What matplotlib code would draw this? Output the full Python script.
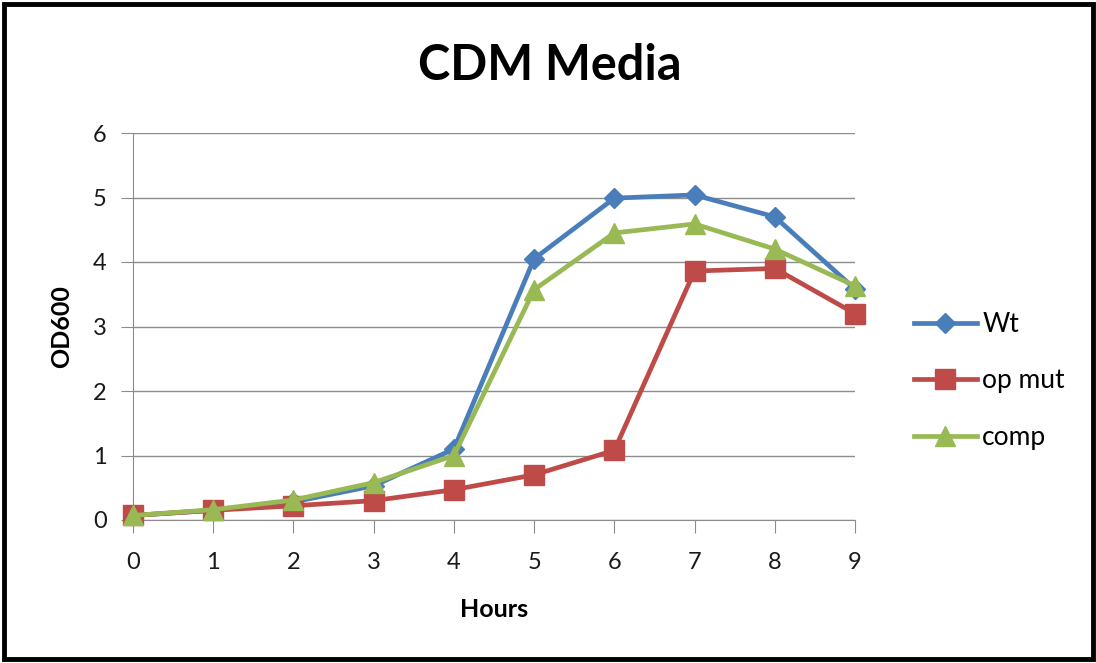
import matplotlib
matplotlib.use("Agg")
import matplotlib.pyplot as plt
from matplotlib.patches import Rectangle

hours = [0, 1, 2, 3, 4, 5, 6, 7, 8, 9]
wt = [0.07, 0.15, 0.28, 0.53, 1.10, 4.05, 4.99, 5.04, 4.70, 3.58]
op_mut = [0.07, 0.15, 0.22, 0.30, 0.47, 0.70, 1.08, 3.86, 3.90, 3.20]
comp = [0.07, 0.16, 0.31, 0.58, 1.00, 3.57, 4.45, 4.59, 4.20, 3.63]

y_ticks = [0, 1, 2, 3, 4, 5, 6]

plt.rcParams['font.family'] = ['Lato', 'DejaVu Sans']

fig = plt.figure(figsize=(10.96, 6.63), dpi=100)
fig.patches.append(Rectangle((0.004, 0.006), 0.993, 0.988, transform=fig.transFigure,
                             fill=False, edgecolor='black', linewidth=3.5))

ax = fig.add_axes([133 / 1096, 1 - 520 / 663, (855 - 133) / 1096, (520 - 133) / 663])

series = [
    (wt, 'Wt', '#4A7EBB', 'D', 10),
    (op_mut, 'op mut', '#BE4B48', 's', 14),
    (comp, 'comp', '#98B954', '^', 14),
]
for vals, name, color, marker, ms in series:
    ax.plot(hours, vals, color=color, linewidth=3.4, marker=marker, markersize=ms,
            markerfacecolor=color, markeredgecolor=color, label=name, clip_on=False, zorder=3)

ax.set_xlim(0, 9)
ax.set_ylim(0, 6)
ax.set_xticks(hours)
ax.set_yticks(y_ticks)
ax.grid(axis='y', color='#8C8C8C', linewidth=1)
ax.set_axisbelow(True)
for s in ['top', 'right']:
    ax.spines[s].set_visible(False)
ax.spines['left'].set_color('#8C8C8C')
ax.spines['bottom'].set_color('#8C8C8C')
ax.tick_params(axis='both', colors='#8C8C8C', labelcolor='#1a1a1a', labelsize=17, length=9)
ax.tick_params(axis='x', pad=14)
ax.tick_params(axis='y', pad=10)

ax.set_xlabel('Hours', fontsize=18, fontweight='bold', labelpad=18)
ax.set_ylabel('OD600', fontsize=18, fontweight='bold', labelpad=14)
fig.text(550 / 1096, 1 - 65 / 663, 'CDM Media', fontsize=35, fontweight='bold',
         ha='center', va='center')

fig.legend(loc='center left', bbox_to_anchor=(890 / 1096, 1 - 381 / 663), frameon=False,
           fontsize=19, labelspacing=1.2, handlelength=2.4, handletextpad=0.2)

fig.savefig('out.png', dpi=100, facecolor='white')
